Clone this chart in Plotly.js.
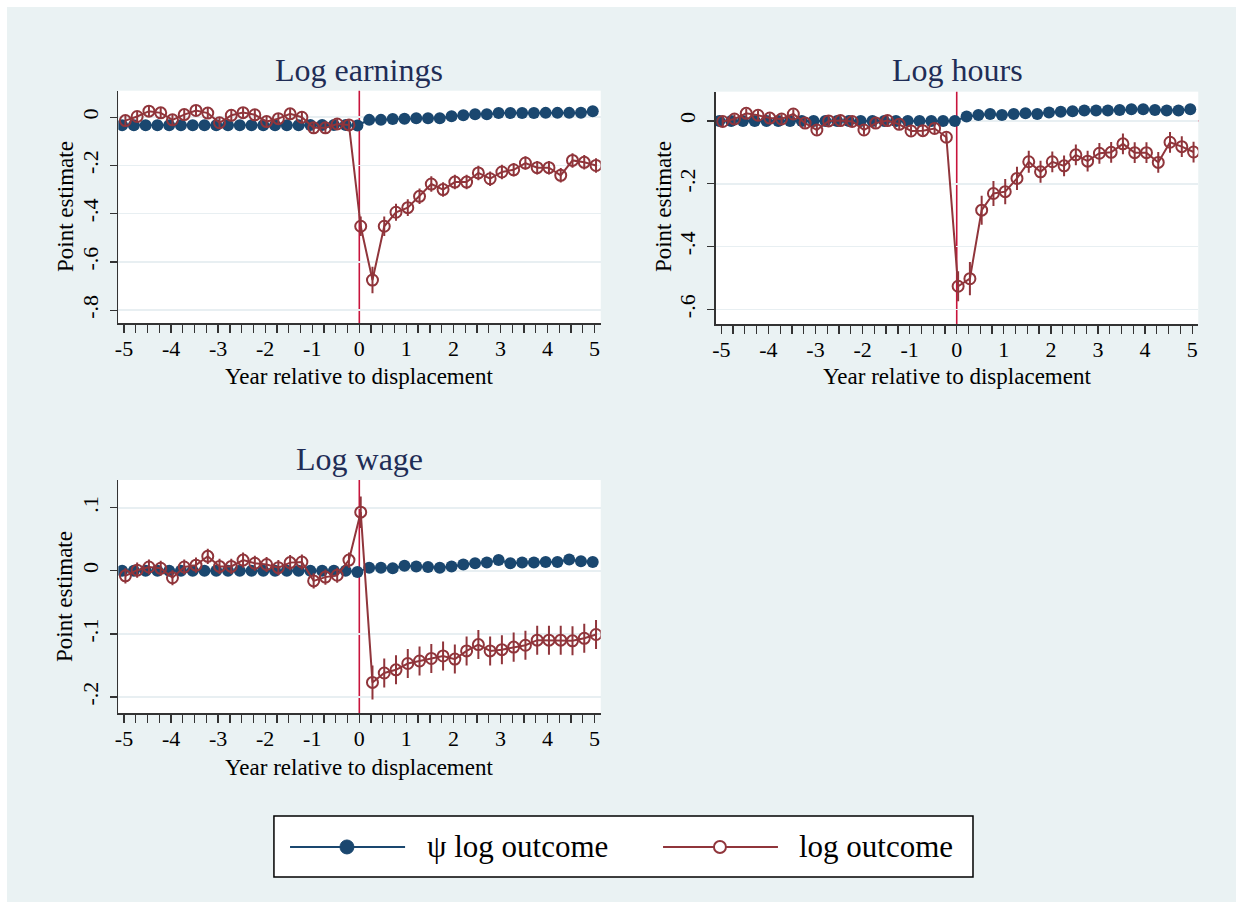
<!DOCTYPE html>
<html>
<head>
<meta charset="utf-8">
<script src="https://cdn.plot.ly/plotly-3.0.1.min.js"></script>
<style>
  html, body { margin: 0; padding: 0; background: #ffffff; }
  #chart { position: absolute; left: 7px; top: 7px; width: 1229px; height: 895px; }
</style>
</head>
<body>
<div id="chart"></div>
<script>
// ---------------- data ----------------
const quarters = [-5,-4.75,-4.5,-4.25,-4,-3.75,-3.5,-3.25,-3,-2.75,-2.5,-2.25,-2,-1.75,-1.5,-1.25,-1,-0.75,-0.5,-0.25,
                  0,0.25,0.5,0.75,1,1.25,1.5,1.75,2,2.25,2.5,2.75,3,3.25,3.5,3.75,4,4.25,4.5,4.75,5];
const xTickVals = [-5,-4,-3,-2,-1,0,1,2,3,4,5];
const xTickText = ["-5","-4","-3","-2","-1","0","1","2","3","4","5"];

// Log earnings
const earnPsi = [-0.033,-0.033,-0.033,-0.033,-0.033,-0.033,-0.033,-0.033,-0.033,-0.033,-0.033,-0.033,-0.033,-0.033,-0.033,-0.033,-0.032,-0.032,-0.032,-0.032,
                 -0.034,-0.011,-0.011,-0.007,-0.006,-0.004,-0.004,-0.004,0.004,0.008,0.012,0.012,0.017,0.017,0.017,0.017,0.018,0.018,0.018,0.019,0.025];
const earnLog = [-0.014,0.003,0.025,0.018,-0.011,0.011,0.028,0.017,-0.023,0.008,0.019,0.010,-0.018,-0.006,0.014,0.000,-0.044,-0.044,-0.028,-0.032,
                 -0.452,-0.675,-0.452,-0.394,-0.375,-0.328,-0.277,-0.300,-0.269,-0.269,-0.231,-0.255,-0.227,-0.218,-0.190,-0.209,-0.209,-0.241,-0.179,-0.187,-0.200];
const earnErr = [0.022,0.022,0.022,0.022,0.022,0.022,0.022,0.022,0.022,0.022,0.022,0.022,0.022,0.022,0.022,0.022,0.022,0.022,0.022,0.022,
                 0.040,0.055,0.040,0.035,0.035,0.032,0.032,0.030,0.030,0.030,0.030,0.030,0.030,0.028,0.028,0.028,0.028,0.030,0.030,0.030,0.030];

// Log hours
const hoursPsi = [0,0,0,0,0,0,0,0,0,0,0,0,0,0,0,0,0,0,0,0,
                  0.000,0.014,0.019,0.022,0.019,0.022,0.024,0.022,0.027,0.029,0.031,0.033,0.033,0.033,0.035,0.037,0.037,0.035,0.033,0.033,0.037];
const hoursLog = [-0.002,0.006,0.024,0.018,0.009,0.006,0.022,-0.007,-0.029,0.000,0.001,-0.002,-0.029,-0.007,0.001,-0.011,-0.032,-0.031,-0.024,-0.052,
                  -0.526,-0.502,-0.284,-0.231,-0.225,-0.183,-0.130,-0.162,-0.130,-0.143,-0.108,-0.128,-0.103,-0.100,-0.073,-0.101,-0.101,-0.132,-0.068,-0.082,-0.099];
const hoursErr = [0.015,0.015,0.015,0.015,0.015,0.015,0.015,0.015,0.015,0.015,0.015,0.015,0.015,0.015,0.015,0.015,0.015,0.015,0.015,0.015,
                  0.048,0.053,0.046,0.040,0.040,0.037,0.035,0.035,0.033,0.033,0.033,0.033,0.033,0.033,0.033,0.033,0.033,0.033,0.033,0.033,0.033];

// Log wage
const wagePsi = [0,0,0,0,0,0,0,0,0,0,0,0,0,0,0,0,0,0,0,0,
                 -0.002,0.005,0.005,0.004,0.008,0.007,0.006,0.005,0.007,0.010,0.012,0.013,0.017,0.012,0.013,0.013,0.014,0.014,0.018,0.015,0.014];
const wageLog = [-0.008,0.001,0.006,0.004,-0.011,0.006,0.009,0.023,0.007,0.007,0.017,0.012,0.010,0.005,0.013,0.014,-0.016,-0.010,-0.007,0.017,
                 0.093,-0.177,-0.162,-0.157,-0.147,-0.143,-0.139,-0.135,-0.140,-0.127,-0.117,-0.127,-0.125,-0.121,-0.118,-0.110,-0.110,-0.110,-0.111,-0.107,-0.101];
const wageErr = [0.012,0.012,0.012,0.012,0.012,0.012,0.012,0.012,0.012,0.012,0.012,0.012,0.012,0.012,0.012,0.012,0.012,0.012,0.012,0.012,
                 0.025,0.027,0.023,0.023,0.023,0.023,0.023,0.023,0.023,0.023,0.023,0.023,0.023,0.023,0.023,0.023,0.023,0.023,0.023,0.023,0.023];

const panelTitles = ["Log earnings", "Log hours", "Log wage"];
const seriesNames = ["\u03c8 log outcome", "log outcome"];
const xTitle = "Year relative to displacement";
const yTitle = "Point estimate";
const yTicks1 = [0,-0.2,-0.4,-0.6,-0.8], yText1 = ["0","-.2","-.4","-.6","-.8"];
const yTicks2 = [0,-0.2,-0.4,-0.6],      yText2 = ["0","-.2","-.4","-.6"];
const yTicks3 = [0.1,0,-0.1,-0.2],       yText3 = [".1","0","-.1","-.2"];

// ---------------- style ----------------
const BLUE = "#1A476F", RED = "#90353B", REF = "#C8143C";
const FONT = "Liberation Serif, Times New Roman, serif";
const TITLECOL = "#1F2D56";
const shiftBlue = -0.04, shiftRed = 0.03;

function pair(psi, lg, err, xa, ya) {
  return [
    { x: quarters.map(v => v + shiftBlue), y: psi, xaxis: xa, yaxis: ya, type: "scatter", mode: "lines+markers",
      line: { color: BLUE, width: 2 }, marker: { color: BLUE, size: 12, symbol: "circle" }, showlegend: false, hoverinfo: "skip" },
    { x: quarters.map(v => v + shiftRed), y: lg, xaxis: xa, yaxis: ya, type: "scatter", mode: "lines+markers",
      line: { color: RED, width: 2 }, marker: { color: RED, size: 11, symbol: "circle-open", line: { width: 2, color: RED } },
      error_y: { type: "data", array: err, visible: true, color: RED, thickness: 2, width: 0 },
      showlegend: false, hoverinfo: "skip" }
  ];
}

const data = [].concat(
  pair(earnPsi, earnLog, earnErr, "x", "y"),
  pair(hoursPsi, hoursLog, hoursErr, "x2", "y2"),
  pair(wagePsi, wageLog, wageErr, "x3", "y3")
);

function xax(domain, anchor) {
  return { domain: domain, anchor: anchor, range: [-5.12, 5.13], tickmode: "array", tickvals: xTickVals, ticktext: xTickText,
    ticks: "outside", ticklen: 8, tickwidth: 1.3, tickcolor: "#333", showline: true, linecolor: "#333", linewidth: 1.5,
    minor: { tickmode: "array", tickvals: quarters, ticks: "outside", ticklen: 8, tickwidth: 1.3, tickcolor: "#333", showgrid: false },
    ticklabelstandoff: -3,
    showgrid: false, zeroline: false, tickfont: { family: FONT, size: 22, color: "#000" }, fixedrange: true };
}
function yax(domain, anchor, range, tv, tt) {
  return { domain: domain, anchor: anchor, range: range, tickmode: "array", tickvals: tv, ticktext: tt, tickangle: -90,
    ticks: "outside", ticklen: 7, tickwidth: 1.3, tickcolor: "#333", showline: true, linecolor: "#333", linewidth: 1.5,
    showgrid: true, gridcolor: "#E8EFF2", gridwidth: 1.5, zeroline: false, ticklabelstandoff: 3,
    tickfont: { family: FONT, size: 22, color: "#000" }, fixedrange: true };
}

function refLines(xa, ya) {
  return [
    { type: "line", xref: xa + " domain", yref: ya, x0: 0, x1: 1, y0: 0, y1: 0, line: { color: REF, width: 1.6 }, layer: "below" },
    { type: "line", xref: xa, yref: ya + " domain", x0: 0, x1: 0, y0: 0, y1: 1, line: { color: REF, width: 1.6 }, layer: "below" }
  ];
}

function ann(text, x, y, size, color, angle, xanchor) {
  return { text: text, x: x, y: y, xref: "paper", yref: "paper", showarrow: false, textangle: angle || 0,
    xanchor: xanchor || "center", yanchor: "middle", font: { family: FONT, size: size, color: color } };
}

const legendShapes = [
  { type: "rect", xref: "paper", yref: "paper", x0: 0.2172, x1: 0.7860, y0: 0.0279, y1: 0.0961,
    fillcolor: "#ffffff", line: { color: "#000", width: 1.5 } },
  { type: "line", xref: "paper", yref: "paper", x0: 0.2303, x1: 0.3239, y0: 0.0615, y1: 0.0615, line: { color: BLUE, width: 2 } },
  { type: "circle", xref: "paper", yref: "paper", xsizemode: "pixel", ysizemode: "pixel", xanchor: 0.2766, yanchor: 0.0615,
    x0: -7, x1: 7, y0: -7, y1: 7, fillcolor: BLUE, line: { color: BLUE, width: 1 } },
  { type: "line", xref: "paper", yref: "paper", x0: 0.5338, x1: 0.6273, y0: 0.0615, y1: 0.0615, line: { color: RED, width: 2 } },
  { type: "circle", xref: "paper", yref: "paper", xsizemode: "pixel", ysizemode: "pixel", xanchor: 0.5801, yanchor: 0.0615,
    x0: -6, x1: 6, y0: -6, y1: 6, fillcolor: "#ffffff", line: { color: RED, width: 2 } }
];

const layout = {
  width: 1229, height: 895,
  margin: { l: 0, r: 0, t: 0, b: 0 },
  paper_bgcolor: "#EAF2F3", plot_bgcolor: "#ffffff",
  showlegend: false,
  font: { family: FONT, color: "#000" },
  xaxis: xax([0.0906, 0.4831], "y"),
  yaxis: yax([0.6464, 0.9065], "x", [-0.855, 0.11], yTicks1, yText1),
  xaxis2: xax([0.5766, 0.9693], "y2"),
  yaxis2: yax([0.6455, 0.9054], "x2", [-0.647, 0.093], yTicks2, yText2),
  xaxis3: xax([0.0906, 0.4831], "y3"),
  yaxis3: yax([0.2108, 0.4715], "x3", [-0.226, 0.144], yTicks3, yText3),
  shapes: [].concat(refLines("x", "y"), refLines("x2", "y2"), refLines("x3", "y3"), legendShapes),
  annotations: [
    ann(panelTitles[0], 0.2868, 0.9296, 32, TITLECOL),
    ann(panelTitles[1], 0.7730, 0.9296, 32, TITLECOL),
    ann(panelTitles[2], 0.2868, 0.4950, 32, TITLECOL),
    ann(xTitle, 0.2868, 0.5866, 23, "#000"),
    ann(xTitle, 0.7730, 0.5866, 23, "#000"),
    ann(xTitle, 0.2868, 0.1508, 23, "#000"),
    ann(yTitle, 0.0472, 0.7765, 23, "#000", -90),
    ann(yTitle, 0.5338, 0.7765, 23, "#000", -90),
    ann(yTitle, 0.0472, 0.3408, 23, "#000", -90),
    ann(seriesNames[0], 0.3401, 0.0615, 31, "#000", 0, "left"),
    ann(seriesNames[1], 0.6428, 0.0615, 31, "#000", 0, "left")
  ]
};

Plotly.newPlot("chart", data, layout, { displayModeBar: false, staticPlot: true });
</script>
</body>
</html>
